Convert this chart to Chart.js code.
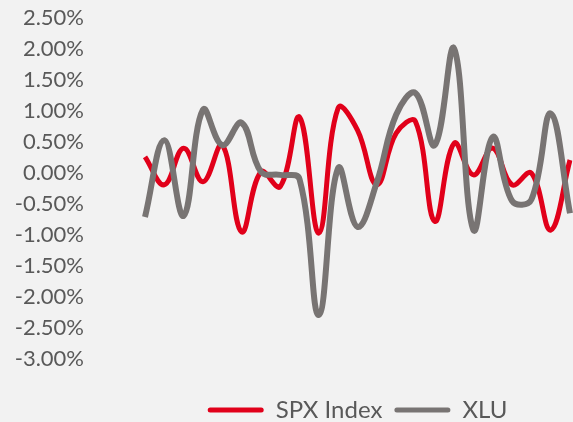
<!DOCTYPE html>
<html>
<head>
<meta charset="utf-8">
<script src="https://cdn.jsdelivr.net/npm/chart.js@4/dist/chart.umd.min.js"></script>
<style>
  html, body { margin: 0; padding: 0; background: #f2f2f2; }
  #wrap { width: 573px; height: 422px; position: relative; }
</style>
</head>
<body>
<div id="wrap"><canvas id="returns_Chart"></canvas></div>
<script>
// daily returns, %
const periods = ['1', '2', '3', '4', '5', '6', '7', '8', '9', '10', '11', '12',
                 '13', '14', '15', '16', '17', '18', '19', '20', '21', '22', '23'];
const spxReturns = [0.26, -0.19, 0.40, -0.14, 0.45, -0.95, 0.02, -0.22, 0.90, -0.97, 1.05, 0.69,
                    -0.19, 0.64, 0.83, -0.78, 0.48, -0.03, 0.40, -0.19, 0.00, -0.92, 0.21];
const xluReturns = [-0.71, 0.53, -0.69, 1.02, 0.45, 0.81, 0.02, -0.03, -0.10, -2.29, 0.08, -0.87,
                    -0.15, 0.94, 1.29, 0.45, 2.01, -0.92, 0.58, -0.45, -0.43, 0.96, -0.65];
const seriesNames = ['SPX Index', 'XLU'];
const seriesColors = ['#e1001a', '#787473'];

const textColor = '#595959';
const fontFamily = 'Lato, "Open Sans", sans-serif';

// legend sits under the plot area, not the whole canvas
const legendUnderPlot = {
    id: 'legendUnderPlot',
    afterLayout(chart) {
        const lg = chart.legend;
        const area = chart.chartArea;
        lg.left = area.left;
        lg.right = area.right;
        lg.width = area.right - area.left;
        lg.top += 10;
        lg.bottom += 10;
    }
};

const ctx = document.getElementById('returns_Chart').getContext('2d');
new Chart(ctx, {
    type: 'line',
    data: {
        labels: periods,
        datasets: [{
            label: seriesNames[0],
            data: spxReturns,
            borderColor: seriesColors[0],
            backgroundColor: seriesColors[0],
            borderWidth: 5,
            pointRadius: 0,
            tension: 0.4,
            order: 2
        }, {
            label: seriesNames[1],
            data: xluReturns,
            borderColor: seriesColors[1],
            backgroundColor: seriesColors[1],
            borderWidth: 6,
            pointRadius: 0,
            tension: 0.4,
            order: 1
        }]
    },
    options: {
        responsive: true,
        maintainAspectRatio: false,
        animation: false,
        layout: {
            padding: { top: 18, right: 3, left: 0, bottom: 0 }
        },
        plugins: {
            legend: {
                position: 'bottom',
                labels: {
                    color: textColor,
                    font: { family: fontFamily, size: 24 },
                    boxWidth: 56,
                    boxHeight: 5,
                    padding: 12,
                    generateLabels: (chart) => chart.data.datasets.map((ds, i) => ({
                        text: ds.label,
                        fillStyle: ds.borderColor,
                        strokeStyle: ds.borderColor,
                        lineWidth: 0,
                        borderRadius: 2.5,
                        fontColor: textColor,
                        datasetIndex: i
                    }))
                }
            },
            tooltip: { enabled: false }
        },
        scales: {
            x: {
                display: true,
                offset: false,
                grid: { display: false, drawTicks: false },
                border: { display: false },
                ticks: { display: false },
                afterFit: (scale) => { scale.height = 17; }
            },
            y: {
                min: -3,
                max: 2.5,
                grid: { display: false, drawTicks: false },
                border: { display: false },
                ticks: {
                    stepSize: 0.5,
                    padding: 61,
                    color: textColor,
                    font: { family: fontFamily, size: 22 },
                    callback: (value) => value.toFixed(2) + '%'
                },
                afterFit: (scale) => {
                    scale.width = 145;
                    scale.paddingTop = 12;
                    scale.paddingBottom = 12;
                }
            }
        }
    },
    plugins: [legendUnderPlot]
});
</script>
</body>
</html>
